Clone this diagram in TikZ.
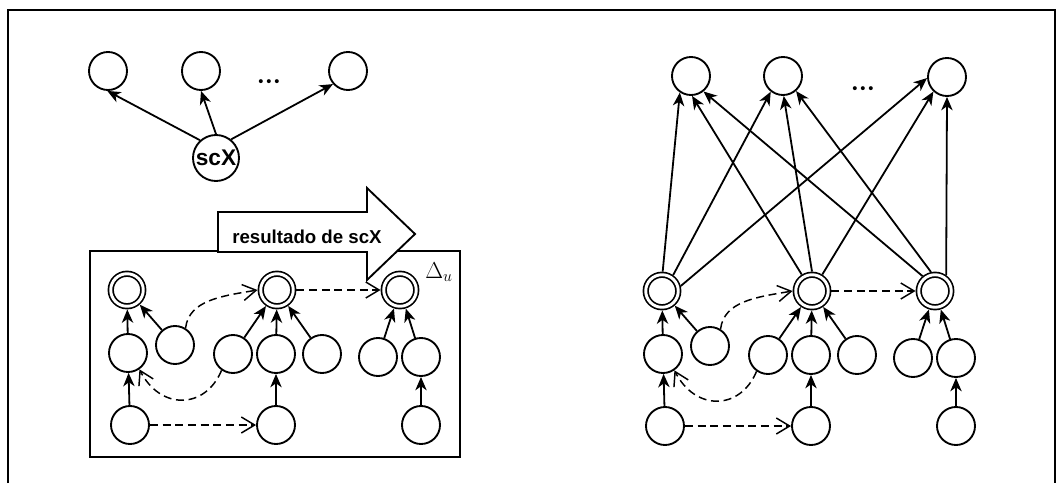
\documentclass[tikz,border=0pt]{standalone}
\usepackage{fontspec}
\setsansfont{Liberation Sans}
\usetikzlibrary{arrows.meta}
\begin{document}
\begin{tikzpicture}[x=0.75pt,y=-0.75pt,
  circ/.style={circle, draw, line width=1.4pt, minimum size=28.5pt, inner sep=0pt},
  dcirc/.style={circle, draw, line width=1.25pt, double, double distance=2.2pt,
    minimum size=24.4pt, inner sep=0pt, outer sep=2.4pt},
  link/.style={line width=1.35pt, -{Stealth[length=10pt,width=8.5pt,inset=3pt]}},
  dlink/.style={line width=1.1pt, dash pattern=on 6pt off 3.5pt,
    -{Straight Barb[length=10pt,width=12pt,line width=1.1pt]}},
  dots/.style={font=\sffamily\fontsize{11}{12}\selectfont}
]
\useasboundingbox (0,0) rectangle (1057,483);

% outer frame (open at the bottom)
\draw[line width=1.3pt] (8,483) -- (8,10) -- (1055,10) -- (1055,483);

% --- upper left: scX and its successors
\node[circ] (lt1) at (108,71) {};
\node[circ] (lt2) at (201,71) {};
\node[circ] (lt3) at (348,71) {};
\node[dots] (ldots) at (269,83) {\textbullet\hspace{2.2pt}\textbullet\hspace{2.2pt}\textbullet};
\node[circ, minimum size=34.5pt, font=\sffamily\bfseries\fontsize{17}{19}\selectfont] (scx) at (216,158) {scX};
\draw[link] (scx.132) -- (lt1.268);
\draw[link] (scx.90) -- (lt2.270);
\draw[link] (scx.51) -- (lt3.221);

% --- box holding the current graph
\draw[line width=1.5pt] (90,251) rectangle (460,457);
\node (du) at (439,272) {\fontsize{17}{19}\selectfont$\Delta_u$};

% --- big arrow with its label
\draw[line width=1.4pt, fill=white] (218,212) -- (367,212) -- (367,188) -- (415,234)
  -- (367,280) -- (367,252) -- (218,252) -- cycle;
\node[font=\sffamily\bfseries\fontsize{14}{16}\selectfont] (res) at (307,237) {resultado de scX};

% --- the same cluster, drawn twice
\foreach \p/\dx/\dy in {l/0/0, r/535/1} {
\begin{scope}[shift={(\dx,\dy)}]
  \node[dcirc] (\p d1) at (127,290) {};
  \node[dcirc] (\p d2) at (277,290) {};
  \node[dcirc] (\p d3) at (400,290) {};
  \node[circ] (\p m1) at (128,353) {};
  \node[circ] (\p s)  at (175,345) {};
  \node[circ] (\p m2) at (233,354) {};
  \node[circ] (\p m3) at (276,354) {};
  \node[circ] (\p m4) at (322,354) {};
  \node[circ] (\p m5) at (378,357) {};
  \node[circ] (\p m6) at (421,357) {};
  \node[circ] (\p b1) at (130,425) {};
  \node[circ] (\p b2) at (276,425) {};
  \node[circ] (\p b3) at (421,425) {};
  \draw[link] (\p m1) -- (\p d1);
  \draw[link] (\p s) -- (\p d1);
  \draw[link] (\p m2) -- (\p d2);
  \draw[link] (\p m3) -- (\p d2);
  \draw[link] (\p m4) -- (\p d2);
  \draw[link] (\p m5) -- (\p d3);
  \draw[link] (\p m6) -- (\p d3);
  \draw[link] (\p b1) -- (\p m1);
  \draw[link] (\p b2) -- (\p m3);
  \draw[link] (\p b3) -- (\p m6);
  \draw[dlink] (\p s.58) .. controls (189,300) and (222,296) .. (\p d2.west);
  \draw[dlink] (\p d2) -- (\p d3);
  \draw[dlink] (\p b1) -- (\p b2);
  \draw[dlink] (\p m2.235) .. controls (205,410) and (160,410) .. (\p m1.-55);
\end{scope}
}

% --- upper right: targets fully connected to the cluster roots
\node[circ] (rt1) at (691,76) {};
\node[circ] (rt2) at (783,76) {};
\node[circ] (rt3) at (947,77) {};
\node[dots] (rdots) at (863,90) {\textbullet\hspace{2.2pt}\textbullet\hspace{2.2pt}\textbullet};
\draw[link] (rd1.88)  -- (rt1.236);
\draw[link] (rd1.55)  -- (rt2.232);
\draw[link] (rd1.15)  -- (rt3.183);
\draw[link] (rd2.122) -- (rt1.273);
\draw[link] (rd2.90)  -- (rt2.272);
\draw[link] (rd2.58)  -- (rt3.227);
\draw[link] (rd3.130) -- (rt1.309);
\draw[link] (rd3.102) -- (rt2.311);
\draw[link] (rd3.55)  -- (rt3.270);
\end{tikzpicture}
\end{document}
